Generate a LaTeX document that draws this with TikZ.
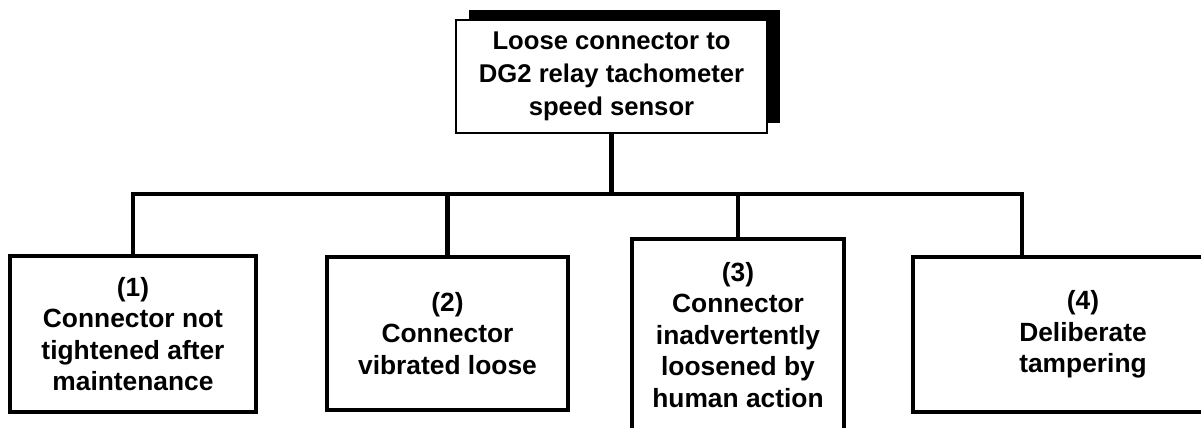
\documentclass[tikz,border=0pt]{standalone}
\usepackage{fontspec}
\setmainfont{Liberation Sans}
\usepackage{tikz}
\usetikzlibrary{shadows}

\begin{document}
\begin{tikzpicture}
            [x=0.02cm,y=-0.02cm,
             box/.style={draw,line width=2.3pt,fill=white,align=center,inner sep=0pt,
                         font=\bfseries\fontsize{15}{17.9}\selectfont},
             topbox/.style={box,line width=1.6pt,font=\bfseries\fontsize{14.6}{18.9}\selectfont,
                         drop shadow={shadow xshift=0.26cm,shadow yshift=0.2cm,fill=black,opacity=1}},
             link/.style={line width=2.3pt}]
            \useasboundingbox (0,0) rectangle (1201,427);
            
            % top event
            \node[topbox,minimum width=6.22cm,minimum height=2.26cm] (top) at (611.5,76.5)
                {Loose connector to\\DG2 relay tachometer\\speed sensor};
            
            % causes
            \node[box,minimum width=4.92cm,minimum height=3.12cm] (c1) at (133,334)
                {(1)\\Connector not\\tightened after\\maintenance};
            \node[box,minimum width=4.82cm,minimum height=3.06cm] (c2) at (447.5,333.5)
                {(2)\\Connector\\vibrated loose};
            \node[box,minimum width=4.24cm,minimum height=3.84cm] (c3) at (738,335)
                {(3)\\Connector\\inadvertently\\loosened by\\human action};
            \node[box,minimum width=6.8cm,minimum height=3.1cm] (c4) at (1083,334.5)
                {(4)\\Deliberate\\tampering};
            
            % tree lines
            \coordinate (bus) at (0,194);
            \coordinate (j4) at (1022,194);
            \draw[link] (top.south) -- (top.south |- bus);
            \draw[link] (c1.north) -- (c1.north |- bus) -- (j4) -- (j4 |- c4.north);
            \draw[link] (c2.north) -- (c2.north |- bus);
            \draw[link] (c3.north) -- (c3.north |- bus);
        \end{tikzpicture}
\end{document}
